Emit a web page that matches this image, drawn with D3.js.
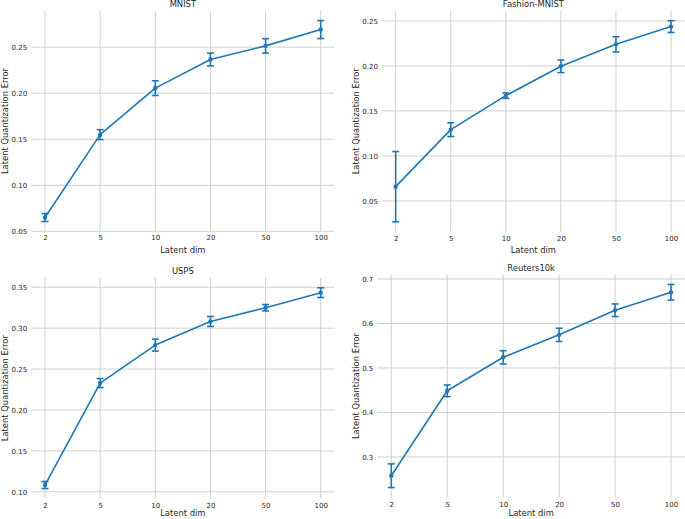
<!DOCTYPE html>
<html><head><meta charset="utf-8">
<script src="https://cdn.jsdelivr.net/npm/d3@7"></script>
<style>body{margin:0;background:#fff}svg{display:block}</style>
</head><body>
<svg id="c" width="685" height="519"></svg>
<script>
const dims = ["2", "5", "10", "20", "50", "100"];
const titles = ["MNIST", "Fashion-MNIST", "USPS", "Reuters10k"];
const mnistMean = [0.065, 0.155, 0.2055, 0.2366, 0.2514, 0.2691];
const mnistErr = [0.0043, 0.0054, 0.008, 0.0069, 0.0078, 0.0098];
const fashionMean = [0.0659, 0.1292, 0.167, 0.1996, 0.224, 0.2437];
const fashionErr = [0.039, 0.0076, 0.003, 0.007, 0.0085, 0.0065];
const uspsMean = [0.1082, 0.2329, 0.2793, 0.3082, 0.325, 0.3434];
const uspsErr = [0.0043, 0.0055, 0.0073, 0.0061, 0.0039, 0.0059];
const reutersMean = [0.2578, 0.4487, 0.524, 0.5745, 0.6298, 0.6702];
const reutersErr = [0.0266, 0.0131, 0.0149, 0.0149, 0.0142, 0.0176];
const mnistTicks = [0.05, 0.10, 0.15, 0.20, 0.25];
const fashionTicks = [0.05, 0.10, 0.15, 0.20, 0.25];
const uspsTicks = [0.10, 0.15, 0.20, 0.25, 0.30, 0.35];
const reutersTicks = [0.3, 0.4, 0.5, 0.6, 0.7];
const xLabel = "Latent dim";
const yLabel = "Latent Quantization Error";

const panels = [
  {title: titles[0], mean: mnistMean, err: mnistErr, ticks: mnistTicks, fmt: ".2f",
   box: {l: 31.2, r: 334.5, t: 10.5, b: 231.5}, ylx: 8, xlo: 21.5},
  {title: titles[1], mean: fashionMean, err: fashionErr, ticks: fashionTicks, fmt: ".2f",
   box: {l: 381.9, r: 684.8, t: 10.7, b: 231.8}, ylx: 358.5, xlo: 21.5},
  {title: titles[2], mean: uspsMean, err: uspsErr, ticks: uspsTicks, fmt: ".2f",
   box: {l: 31.2, r: 334.5, t: 277.8, b: 498.6}, ylx: 8, xlo: 17.6},
  {title: titles[3], mean: reutersMean, err: reutersErr, ticks: reutersTicks, fmt: ".1f",
   box: {l: 377.3, r: 685, t: 274.3, b: 497.7}, ylx: 358.5, xlo: 18.5}
];

const color = "#1f77b4";
const gridColor = "#cfcfcf";
const textColor = "#262626";
const font = "DejaVu Sans, sans-serif";
const svg = d3.select("#c");

panels.forEach(p => {
  const lo = d3.min(p.mean.map((m, i) => m - p.err[i]));
  const hi = d3.max(p.mean.map((m, i) => m + p.err[i]));
  const pad = (hi - lo) * 0.05;
  const x = d3.scaleLinear().domain([-0.25, dims.length - 0.75]).range([p.box.l, p.box.r]);
  const y = d3.scaleLinear().domain([lo - pad, hi + pad]).range([p.box.b, p.box.t]);
  const g = svg.append("g");

  // grid
  g.append("g").selectAll("line").data(p.ticks).join("line")
    .attr("x1", p.box.l).attr("x2", p.box.r)
    .attr("y1", d => y(d)).attr("y2", d => y(d))
    .attr("stroke", gridColor).attr("stroke-width", 1);
  g.append("g").selectAll("line").data(dims).join("line")
    .attr("x1", (d, i) => x(i)).attr("x2", (d, i) => x(i))
    .attr("y1", p.box.t).attr("y2", p.box.b)
    .attr("stroke", gridColor).attr("stroke-width", 1);

  // y axis
  const ya = d3.axisLeft(y).tickValues(p.ticks).tickFormat(d3.format(p.fmt)).tickSize(0).tickPadding(4);
  const yg = g.append("g").attr("transform", `translate(${p.box.l},0)`).call(ya);
  yg.select(".domain").remove();
  yg.selectAll("text").attr("fill", textColor).attr("font-size", 7).attr("font-family", font);

  // x axis
  const xa = d3.axisBottom(x).tickValues(d3.range(dims.length)).tickFormat(i => dims[i]).tickSize(0).tickPadding(4);
  const xg = g.append("g").attr("transform", `translate(0,${p.box.b})`).call(xa);
  xg.select(".domain").remove();
  xg.selectAll("text").attr("fill", textColor).attr("font-size", 7).attr("font-family", font);

  // labels
  g.append("text").attr("x", (p.box.l + p.box.r) / 2).attr("y", p.box.b + p.xlo)
    .attr("text-anchor", "middle").attr("font-size", 8.4).attr("font-family", font)
    .attr("fill", textColor).text(xLabel);
  g.append("text").attr("transform", `translate(${p.ylx},${(p.box.t + p.box.b) / 2}) rotate(-90)`)
    .attr("text-anchor", "middle").attr("font-size", 8.4).attr("font-family", font)
    .attr("fill", textColor).text(yLabel);
  g.append("text").attr("x", (p.box.l + p.box.r) / 2).attr("y", p.box.t - 3.5)
    .attr("text-anchor", "middle").attr("font-size", 8.4).attr("font-family", font)
    .attr("fill", textColor).text(p.title);

  // line
  const line = d3.line().x((d, i) => x(i)).y(d => y(d));
  g.append("path").datum(p.mean).attr("d", line).attr("fill", "none")
    .attr("stroke", color).attr("stroke-width", 1.6).attr("stroke-linejoin", "round");

  // error bars
  const eb = g.append("g").attr("stroke", color).attr("stroke-width", 1.6);
  p.mean.forEach((m, i) => {
    const cx = x(i), y1 = y(m - p.err[i]), y2 = y(m + p.err[i]);
    eb.append("line").attr("x1", cx).attr("x2", cx).attr("y1", y1).attr("y2", y2);
    eb.append("line").attr("x1", cx - 3.5).attr("x2", cx + 3.5).attr("y1", y1).attr("y2", y1);
    eb.append("line").attr("x1", cx - 3.5).attr("x2", cx + 3.5).attr("y1", y2).attr("y2", y2);
  });
  g.append("g").selectAll("circle").data(p.mean).join("circle")
    .attr("cx", (d, i) => x(i)).attr("cy", d => y(d)).attr("r", 2.2).attr("fill", color);
});
</script>
</body></html>
